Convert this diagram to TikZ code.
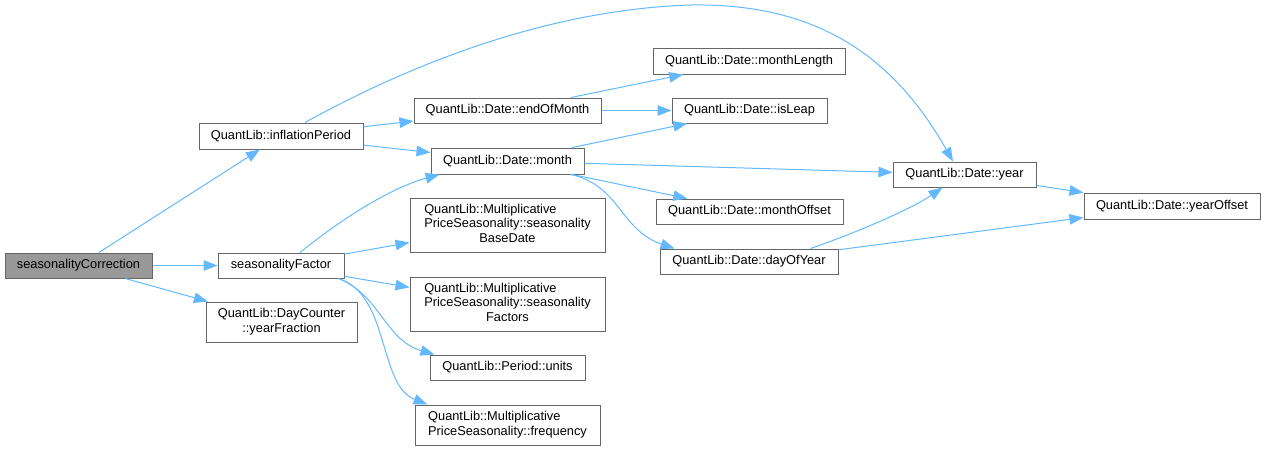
\documentclass[tikz,border=0pt]{standalone}
\usepackage{fontspec}
\setmainfont{Liberation Sans}
\usetikzlibrary{arrows.meta}
\definecolor{edgeblue}{HTML}{63B8FF}
\definecolor{boxgray}{HTML}{666666}
\definecolor{selgray}{HTML}{999999}
\tikzset{
  fn/.style={draw=boxgray, line width=1pt, fill=white, inner sep=0pt, anchor=center,
    font=\fontsize{12.8}{14.5}\selectfont},
  sel/.style={fn, fill=selgray},
  call/.style={draw=edgeblue, line width=1pt, -{Triangle[length=14pt,width=10.5pt]}},
}
\begin{document}
\begin{tikzpicture}[x=1pt,y=-1pt]
\useasboundingbox (0,0) rectangle (1265,451);
% nodes
\node[sel, minimum width=147pt, minimum height=25pt] (sc) at (78.5,265.5) {seasonalityCorrection};
\node[fn, minimum width=164pt, minimum height=26pt] (ip) at (281,136) {QuantLib::inflationPeriod};
\node[fn, minimum width=126pt, minimum height=25pt] (sf) at (281,265.5) {seasonalityFactor};
\node[fn, minimum width=151pt, minimum height=40pt] (yf) at (281.5,322) {\begin{tabular}{@{}c@{}}QuantLib::DayCounter\\::yearFraction\end{tabular}};
\node[fn, minimum width=187pt, minimum height=25pt] (eom) at (507.5,110.5) {QuantLib::Date::endOfMonth};
\node[fn, minimum width=153pt, minimum height=26pt] (mo) at (507.5,161) {QuantLib::Date::month};
\node[fn, minimum width=195pt, minimum height=54pt] (sbd) at (507.5,225) {\begin{tabular}{@{}l@{}}QuantLib::Multiplicative\\PriceSeasonality::seasonality\\\multicolumn{1}{@{}c@{}}{BaseDate}\end{tabular}};
\node[fn, minimum width=195pt, minimum height=54pt] (sfs) at (507.5,304) {\begin{tabular}{@{}l@{}}QuantLib::Multiplicative\\PriceSeasonality::seasonality\\\multicolumn{1}{@{}c@{}}{Factors}\end{tabular}};
\node[fn, minimum width=155pt, minimum height=25pt] (pu) at (507.5,367.5) {QuantLib::Period::units};
\node[fn, minimum width=185pt, minimum height=40pt] (fr) at (507.5,425) {\begin{tabular}{@{}l@{}}QuantLib::Multiplicative\\PriceSeasonality::frequency\end{tabular}};
\node[fn, minimum width=192pt, minimum height=26pt] (ml) at (749,61) {QuantLib::Date::monthLength};
\node[fn, minimum width=155pt, minimum height=25pt] (il) at (749.5,110.5) {QuantLib::Date::isLeap};
\node[fn, minimum width=187pt, minimum height=25pt] (mof) at (749.5,211.5) {QuantLib::Date::monthOffset};
\node[fn, minimum width=178pt, minimum height=25pt] (doy) at (749,261.5) {QuantLib::Date::dayOfYear};
\node[fn, minimum width=143pt, minimum height=25pt] (yr) at (964.5,174.5) {QuantLib::Date::year};
\node[fn, minimum width=176pt, minimum height=26pt] (yo) at (1172,206) {QuantLib::Date::yearOffset};
% straight edges
\draw[call] (sc) -- (ip);
\draw[call] (sc) -- (sf);
\draw[call] (sc) -- (yf);
\draw[call] (ip) -- (eom);
\draw[call] (ip) -- (mo);
\draw[call] (eom) -- (ml);
\draw[call] (eom) -- (il);
\draw[call] (mo) -- (il);
\draw[call] (mo) -- (yr);
\draw[call] (mo) -- (mof);
\draw[call] (sf) -- (sbd);
\draw[call] (sf) -- (sfs);
\draw[call] (doy) -- (yo);
\draw[call] (yr) -- (yo);
% curved edges
\draw[call] ([xshift=24pt]ip.north) .. controls (400,70) and (540,10) .. (690,5)
  .. controls (810,3) and (890,50) .. ([xshift=-11.5pt]yr.north);
\draw[call] ([xshift=19pt]sf.north) .. controls (340,220) and (390,188) .. ([xshift=9pt]mo.south west);
\draw[call] ([xshift=-6pt]sf.south east) .. controls (380,295) and (385,340) .. ([xshift=5pt]pu.north west);
\draw[call] ([xshift=-6pt]sf.south east) .. controls (390,295) and (378,385) .. ([xshift=13pt]fr.north west);
\draw[call] ([xshift=-14pt]mo.south east) .. controls (620,185) and (620,230) .. ([xshift=15pt]doy.north west);
\draw[call] ([xshift=-28pt]doy.north east) .. controls (850,235) and (910,210) .. ([xshift=50pt]yr.south west);
\end{tikzpicture}
\end{document}
